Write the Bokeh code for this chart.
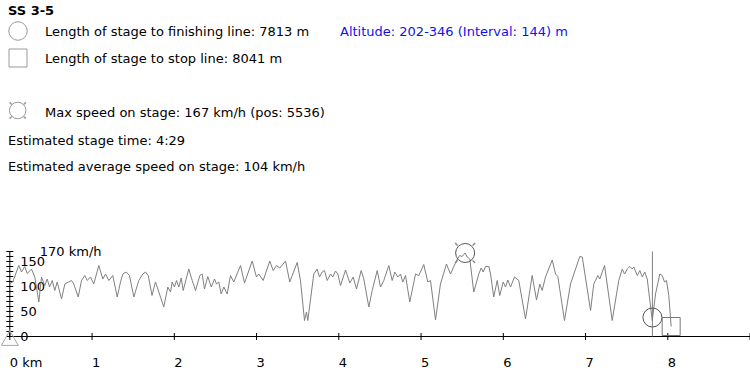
import math
from bokeh.plotting import figure
from bokeh.models import Range1d
from bokeh.core.properties import value
from bokeh.embed import file_html
from bokeh.resources import INLINE

# ---------------- data ----------------
stage_title = "SS 3-5"
finish_km = 7.813
stop_km = 8.041
max_speed = 167
max_pos_km = 5.536
stage_time = "4:29"
avg_speed = 104
alt_min, alt_max = 202, 346

dist_km = [
    0.000, 0.036, 0.109, 0.142, 0.182, 0.212, 0.264, 0.304, 0.353, 0.385,
    0.426, 0.455, 0.483, 0.516, 0.547, 0.576, 0.629, 0.669, 0.717, 0.750,
    0.778, 0.832, 0.872, 0.912, 0.941, 0.981, 1.021, 1.082, 1.131, 1.164,
    1.204, 1.252, 1.306, 1.346, 1.374, 1.415, 1.455, 1.508, 1.568, 1.617,
    1.650, 1.683, 1.729, 1.771, 1.800, 1.872, 1.921, 1.954, 1.974, 2.002,
    2.027, 2.055, 2.084, 2.108, 2.176, 2.218, 2.258, 2.310, 2.339, 2.367,
    2.407, 2.449, 2.489, 2.513, 2.541, 2.570, 2.602, 2.643, 2.683, 2.723,
    2.805, 2.854, 2.947, 2.999, 3.027, 3.081, 3.161, 3.202, 3.243, 3.283,
    3.352, 3.404, 3.494, 3.534, 3.583, 3.607, 3.623, 3.696, 3.737, 3.765,
    3.798, 3.826, 3.859, 3.899, 3.927, 3.960, 3.988, 4.021, 4.082, 4.134,
    4.175, 4.215, 4.272, 4.304, 4.365, 4.406, 4.467, 4.507, 4.547, 4.608,
    4.649, 4.681, 4.717, 4.750, 4.778, 4.811, 4.863, 4.933, 4.973, 5.033,
    5.082, 5.115, 5.176, 5.236, 5.309, 5.358, 5.440, 5.471, 5.500, 5.536,
    5.561, 5.593, 5.641, 5.702, 5.731, 5.756, 5.784, 5.824, 5.845, 5.884,
    5.926, 5.957, 5.999, 6.027, 6.055, 6.088, 6.136, 6.188, 6.270, 6.351,
    6.404, 6.444, 6.473, 6.513, 6.595, 6.635, 6.663, 6.744, 6.817, 6.930,
    6.960, 7.061, 7.100, 7.121, 7.149, 7.173, 7.231, 7.324, 7.404, 7.446,
    7.474, 7.507, 7.538, 7.568, 7.587, 7.629, 7.660, 7.690, 7.720, 7.750,
    7.811, 7.851, 7.903, 7.932, 7.960, 7.984, 8.012, 8.041,
]
speed_kmh = [
    106, 109, 142, 129, 140, 126, 135, 119, 69, 119,
    102, 115, 99, 112, 92, 109, 75, 105, 109, 112,
    105, 79, 112, 122, 112, 119, 105, 142, 115, 125,
    112, 122, 79, 109, 125, 129, 122, 79, 112, 125,
    129, 122, 82, 109, 95, 59, 99, 89, 109, 99,
    112, 99, 117, 92, 135, 112, 92, 122, 125, 95,
    120, 99, 115, 105, 109, 85, 99, 85, 122, 109,
    142, 107, 151, 119, 125, 112, 151, 132, 142, 137,
    151, 109, 148, 112, 32, 49, 32, 125, 135, 119,
    129, 132, 112, 125, 119, 131, 125, 102, 133, 107,
    119, 95, 132, 115, 59, 92, 132, 99, 112, 142,
    112, 129, 119, 125, 109, 122, 69, 125, 122, 144,
    109, 112, 33, 105, 145, 125, 155, 162, 160, 167,
    159, 155, 89, 125, 137, 129, 140, 140, 125, 79,
    112, 82, 109, 99, 113, 99, 119, 112, 35, 122,
    73, 105, 92, 119, 153, 125, 120, 32, 105, 160,
    159, 52, 105, 112, 122, 115, 142, 32, 112, 135,
    125, 135, 140, 135, 139, 122, 132, 119, 129, 115,
    32, 85, 125, 122, 109, 112, 82, 20,
]
finish_marker_speed = 38
stop_marker_speed = 20
start_marker_speed = -8

x_ticks = [0, 1, 2, 3, 4, 5, 6, 7, 8, 9]
x_tick_labels = ["0 km", "1", "2", "3", "4", "5", "6", "7", "8", ""]
y_ticks = list(range(0, 171, 10))
y_label_values = [0, 50, 100, 150]
y_label_texts = ["0", "50", "100", "150"]
speed_axis_top = 170
speed_axis_label = "170 km/h"
x_axis_end = 9

# ---------------- figure ----------------
W, H = 750, 372
FONT = value("DejaVu Sans")
p = figure(width=W, height=H,
           x_range=Range1d(-0.1131, 9.0055), y_range=Range1d(-72, 672),
           output_backend="svg", toolbar_location=None,
           x_axis_location=None, y_axis_location=None,
           min_border=0, outline_line_color=None,
           background_fill_color="white", border_fill_color="white")
p.xgrid.grid_line_color = None
p.ygrid.grid_line_color = None
# page-pixel layout space for the header block
p.extra_x_ranges = {"px": Range1d(0, W)}
p.extra_y_ranges = {"px": Range1d(H, 0)}

# ---- header ----
p.text(x=[7.5], y=[10], text=[stage_title], x_range_name="px", y_range_name="px",
       text_font=FONT, text_font_size="13px", text_font_style="bold",
       text_baseline="alphabetic", text_color="#000000")
info_texts = [
    f"Length of stage to finishing line: {round(finish_km * 1000)} m",
    f"Length of stage to stop line: {round(stop_km * 1000)} m",
    f"Max speed on stage: {max_speed} km/h (pos: {round(max_pos_km * 1000)})",
    f"Estimated stage time: {stage_time}",
    f"Estimated average speed on stage: {avg_speed} km/h",
]
p.text(x=[44.5, 44.5, 44.5, 7.5, 7.5], y=[31, 58.3, 111.7, 140, 166], text=info_texts,
       x_range_name="px", y_range_name="px",
       text_font=FONT, text_font_size="13px", text_baseline="alphabetic",
       text_color="#000000")
p.text(x=[339.5], y=[31], text=[f"Altitude: {alt_min}-{alt_max} (Interval: {alt_max - alt_min}) m"],
       x_range_name="px", y_range_name="px",
       text_font=FONT, text_font_size="13px", text_baseline="alphabetic",
       text_color="#1010f0")
# legend icons
p.scatter(x=[17.5, 17.2], y=[30.5, 110], marker="circle", size=[18.5, 16.5],
          fill_color=None, line_color="#9a9a9a", line_width=1,
          x_range_name="px", y_range_name="px")
p.scatter(x=[17.5], y=[57.5], marker="square", size=18,
          fill_color=None, line_color="#9a9a9a", line_width=1,
          x_range_name="px", y_range_name="px")
diag = [math.pi / 4, 3 * math.pi / 4, 5 * math.pi / 4, 7 * math.pi / 4]
p.annular_wedge(x=[17.2] * 4, y=[110] * 4, inner_radius=8.5, outer_radius=11.5,
                inner_radius_units="screen", outer_radius_units="screen",
                start_angle=[a - 0.07 for a in diag], end_angle=[a + 0.07 for a in diag],
                fill_color="#9a9a9a", line_color=None,
                x_range_name="px", y_range_name="px")

# ---- axes drawn from tick arrays ----
p.segment(x0=[0], y0=[0], x1=[x_axis_end], y1=[0], line_color="#000000", line_width=1)
p.segment(x0=[0], y0=[0], x1=[0], y1=[speed_axis_top], line_color="#000000", line_width=1)
p.scatter(x=x_ticks, y=[0] * len(x_ticks), marker="dash", angle=math.pi / 2, size=7,
          line_color="#000000", line_width=1)
p.scatter(x=[0] * len(y_ticks), y=y_ticks, marker="dash", size=7,
          line_color="#000000", line_width=1)
p.text(x=x_ticks, y=[0] * len(x_ticks), text=x_tick_labels, y_offset=26,
       text_font=FONT, text_font_size="13px", text_baseline="alphabetic",
       text_color="#000000")
p.text(x=[0] * len(y_label_values), y=y_label_values, text=y_label_texts,
       x_offset=10.5, y_offset=0,
       text_font=FONT, text_font_size="13px", text_baseline="alphabetic",
       text_color="#000000")
p.text(x=[0], y=[speed_axis_top], text=[speed_axis_label], x_offset=30, y_offset=0,
       text_font=FONT, text_font_size="13px", text_baseline="alphabetic",
       text_color="#000000")

# start triangle
p.scatter(x=[0], y=[start_marker_speed], marker="triangle", size=17,
          fill_color=None, line_color="#a8a8a8", line_width=1)

# ---- speed trace ----
p.line(dist_km, speed_kmh, line_color="#808080", line_width=1)

# finishing line, finish & stop markers
p.segment(x0=[finish_km], y0=[0], x1=[finish_km], y1=[speed_axis_top],
          line_color="#808080", line_width=1)
p.scatter(x=[finish_km], y=[finish_marker_speed], marker="circle", size=19,
          fill_color=None, line_color="#555555", line_width=1)
p.scatter(x=[stop_km], y=[stop_marker_speed], marker="square", size=18,
          fill_color=None, line_color="#777777", line_width=1)

# max speed marker
p.scatter(x=[max_pos_km], y=[max_speed], marker="circle", size=19,
          fill_color=None, line_color="#555555", line_width=1)
p.annular_wedge(x=[max_pos_km] * 4, y=[max_speed] * 4, inner_radius=10.5, outer_radius=14,
                inner_radius_units="screen", outer_radius_units="screen",
                start_angle=[a - 0.06 for a in diag], end_angle=[a + 0.06 for a in diag],
                fill_color="#888888", line_color=None)

open("out.html", "w").write(file_html(p, INLINE))
